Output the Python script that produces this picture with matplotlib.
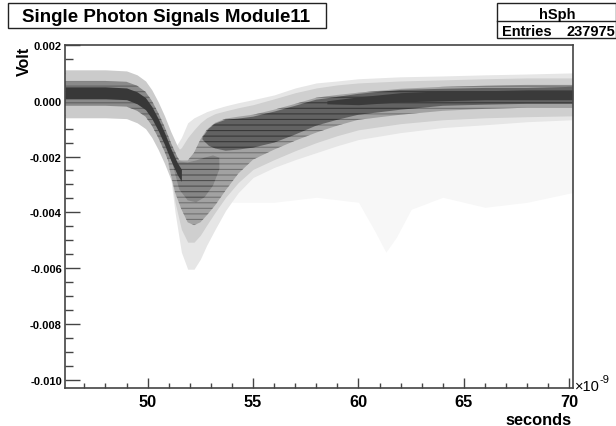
import matplotlib
matplotlib.use("Agg")
import matplotlib.pyplot as plt
from matplotlib.patches import Rectangle
from matplotlib.ticker import MultipleLocator, FormatStrFormatter

plt.rcParams['font.family'] = ['Liberation Sans', 'DejaVu Sans']
plt.rcParams['axes.unicode_minus'] = False
plt.rcParams['hatch.linewidth'] = 0.8

# ---------------- data (time in ns, amplitude in V) ----------------
title = "Single Photon Signals Module11"
hist_name = "hSph"
entries = 237975

# component A: baseline before the pulse and the falling edge
t_a = [46.08, 47.0, 48.0, 49.0, 49.5, 49.9, 50.2, 50.5, 50.8, 51.1, 51.4, 51.6]
a_halo_hi = [0.00111, 0.00111, 0.00111, 0.00107, 0.00093, 0.00071, 0.00039, -0.00004, -0.00054, -0.00111, -0.00161, -0.00186]
a_halo_lo = [-0.00061, -0.00061, -0.00061, -0.00064, -0.00079, -0.00100, -0.00132, -0.00175, -0.00225, -0.00282, -0.00332, -0.00357]
a_mid_hi = [0.00071, 0.00071, 0.00071, 0.00068, 0.00054, 0.00032, 0.00000, -0.00043, -0.00093, -0.00150, -0.00200, -0.00225]
a_mid_lo = [-0.00018, -0.00018, -0.00018, -0.00021, -0.00036, -0.00057, -0.00089, -0.00132, -0.00182, -0.00239, -0.00289, -0.00314]
a_core_hi = [0.00050, 0.00050, 0.00050, 0.00046, 0.00032, 0.00011, -0.00021, -0.00064, -0.00114, -0.00171, -0.00221, -0.00246]
a_core_lo = [0.00007, 0.00007, 0.00007, 0.00004, -0.00011, -0.00032, -0.00064, -0.00107, -0.00157, -0.00214, -0.00264, -0.00289]

# component B: pulse trough and recovery
t_b = [51.0, 51.3, 51.6, 51.9, 52.2, 52.5, 52.8, 53.2, 53.7, 54.3, 55.0,
       56.0, 57.0, 58.0, 59.0, 60.0, 62.0, 64.0, 66.0, 68.0, 70.16]
b_sparse_hi = [-0.00168, -0.00168, -0.00132, -0.00079, -0.00061, -0.00050, -0.00039, -0.00029, -0.00018, -0.00007, 0.00004,
               0.00021, 0.00046, 0.00064, 0.00071, 0.00079, 0.00086, 0.00089, 0.00093, 0.00096, 0.00100]
b_sparse_lo = [-0.00221, -0.00400, -0.00543, -0.00604, -0.00604, -0.00568, -0.00518, -0.00461, -0.00393, -0.00329, -0.00275,
               -0.00239, -0.00211, -0.00186, -0.00161, -0.00139, -0.00114, -0.00096, -0.00086, -0.00075, -0.00068]
b_halo_hi = [-0.00186, -0.00186, -0.00168, -0.00132, -0.00104, -0.00079, -0.00061, -0.00046, -0.00036, -0.00025, -0.00014,
             0.00007, 0.00029, 0.00046, 0.00057, 0.00064, 0.00071, 0.00075, 0.00079, 0.00082, 0.00082]
b_halo_lo = [-0.00221, -0.00364, -0.00461, -0.00507, -0.00507, -0.00482, -0.00446, -0.00400, -0.00346, -0.00293, -0.00246,
             -0.00211, -0.00179, -0.00150, -0.00125, -0.00104, -0.00082, -0.00068, -0.00061, -0.00057, -0.00054]
b_mid_hi = [-0.00204, -0.00211, -0.00214, -0.00214, -0.00186, -0.00139, -0.00104, -0.00079, -0.00064, -0.00057, -0.00050,
            -0.00032, -0.00011, 0.00011, 0.00021, 0.00029, 0.00043, 0.00050, 0.00054, 0.00057, 0.00057]
b_mid_lo = [-0.00232, -0.00329, -0.00389, -0.00436, -0.00446, -0.00436, -0.00411, -0.00375, -0.00321, -0.00261, -0.00211,
            -0.00175, -0.00143, -0.00114, -0.00089, -0.00068, -0.00050, -0.00036, -0.00029, -0.00025, -0.00025]

# dense recovery band
t_bc = [52.6, 52.9, 53.2, 53.7, 54.3, 55.0, 56.0, 57.0, 58.0, 59.0, 60.0, 62.0, 64.0, 66.0, 68.0, 70.16]
b_core_hi = [-0.00132, -0.00100, -0.00082, -0.00068, -0.00064, -0.00057, -0.00039, -0.00018, 0.00004, 0.00014,
             0.00025, 0.00039, 0.00043, 0.00046, 0.00046, 0.00050]
b_core_lo = [-0.00139, -0.00161, -0.00171, -0.00179, -0.00175, -0.00168, -0.00150, -0.00121, -0.00089, -0.00068,
             -0.00050, -0.00032, -0.00018, -0.00014, -0.00011, -0.00011]

# denser part of the trough cloud
t_bt = [51.2, 51.5, 51.9, 52.3, 52.7, 53.1, 53.4]
b_trough_hi = [-0.00214, -0.00218, -0.00221, -0.00214, -0.00204, -0.00196, -0.00204]
b_trough_lo = [-0.00232, -0.00318, -0.00357, -0.00364, -0.00346, -0.00304, -0.00246]

# darkest line of the late baseline
t_bd = [58.5, 60.0, 62.0, 64.0, 66.0, 68.0, 70.16]
b_dark_hi = [0.00000, 0.00014, 0.00029, 0.00036, 0.00036, 0.00039, 0.00039]
b_dark_lo = [-0.00011, -0.00014, -0.00004, 0.00000, 0.00004, 0.00004, 0.00004]

# faint after-pulse scatter
t_ap = [54.0, 56.0, 58.0, 60.0, 60.8, 61.3, 61.8, 62.5, 64.0, 66.0, 68.0, 70.16]
ap_hi = [-0.00204, -0.00168, -0.00132, -0.00114, -0.00114, -0.00114, -0.00114, -0.00096, -0.00089, -0.00079, -0.00068, -0.00061]
ap_lo = [-0.00364, -0.00364, -0.00346, -0.00364, -0.00471, -0.00543, -0.00489, -0.00389, -0.00346, -0.00382, -0.00364, -0.00329]

x_major = [50, 55, 60, 65, 70]
y_major = [-0.010, -0.008, -0.006, -0.004, -0.002, 0.000, 0.002]

# ---------------- figure ----------------
W, H = 616, 427
fig = plt.figure(figsize=(W / 100, H / 100), dpi=100)
ax = fig.add_axes([65 / W, 1 - 389 / H, (572.7 - 65) / W, (389 - 46) / H])

def band(t, lo, hi, color, z, hatch=None, hcolor=None):
    ax.fill_between(t, lo, hi, facecolor=color, edgecolor=hcolor if hatch else color,
                    linewidth=0, hatch=hatch, zorder=z)

band(t_ap, ap_lo, ap_hi, '#f7f7f7', 1)
band(t_b, b_sparse_lo, b_sparse_hi, '#e6e6e6', 2)
band(t_a, a_halo_lo, a_halo_hi, '#cbcbcb', 3)
band(t_b, b_halo_lo, b_halo_hi, '#cfcfcf', 3)
band(t_a, a_mid_lo, a_mid_hi, '#8a8a8a', 4, '---', '#626262')
band(t_b, b_mid_lo, b_mid_hi, '#a2a2a2', 4, '---', '#727272')
band(t_bt, b_trough_lo, b_trough_hi, '#868686', 5, '---', '#4e4e4e')
band(t_bc, b_core_lo, b_core_hi, '#626262', 5, '---', '#383838')
band(t_a, a_core_lo, a_core_hi, '#383838', 6)
band(t_bd, b_dark_lo, b_dark_hi, '#3a3a3a', 6)

ax.set_xlim(46.08, 70.16)
ax.set_ylim(-0.0103, 0.0020)
ax.set_xticks(x_major)
ax.set_yticks(y_major)
ax.xaxis.set_minor_locator(MultipleLocator(1))
ax.yaxis.set_minor_locator(MultipleLocator(0.0005))
ax.yaxis.set_major_formatter(FormatStrFormatter('%.3f'))
ax.xaxis.set_major_formatter(FormatStrFormatter('%d'))

ax.tick_params(axis='both', which='both', direction='in', colors='#444444', top=False, right=False)
ax.tick_params(axis='y', which='major', length=10.8, width=1.0, pad=2.2, labelsize=8, labelcolor='black')
ax.tick_params(axis='y', which='minor', length=5.8, width=1.0)
ax.tick_params(axis='x', which='major', length=7.2, width=1.0, pad=4.3, labelsize=11.8, labelcolor='black')
ax.tick_params(axis='x', which='minor', length=3.6, width=1.0)
for lab in ax.get_xticklabels() + ax.get_yticklabels():
    lab.set_fontweight('bold')
for sp in ax.spines.values():
    sp.set_color('#444444')
    sp.set_linewidth(1.2)
    sp.set_zorder(10)

# axis titles
fig.text(24.5 / W, 1 - 47 / H, 'Volt', rotation=90, ha='center', va='top',
         fontsize=11.5, fontweight='bold')
fig.text(572 / W, 1 - 425 / H, 'seconds', ha='right', va='baseline',
         fontsize=11.8, fontweight='bold')
fig.text(575 / W, 1 - 391 / H, '\u00d710', ha='left', va='baseline', fontsize=10.5)
fig.text(600 / W, 1 - 383 / H, '-9', ha='left', va='baseline', fontsize=8)

# title box
fig.patches.append(Rectangle((8 / W, 1 - 29 / H), (326 - 8) / W, (29 - 4) / H,
                             transform=fig.transFigure, facecolor='white',
                             edgecolor='#222222', linewidth=1.0))
fig.text(22 / W, 1 - 21.7 / H, title, ha='left', va='baseline',
         fontsize=13.5, fontweight='bold')

# stats box
fig.patches.append(Rectangle((497 / W, 1 - 39 / H), (616 - 497) / W, (39 - 4) / H,
                             transform=fig.transFigure, facecolor='white',
                             edgecolor='#222222', linewidth=1.0))
fig.add_artist(plt.Line2D([497 / W, 616 / W], [1 - 22 / H, 1 - 22 / H],
                          transform=fig.transFigure, color='#222222', linewidth=1.0))
fig.text(557 / W, 1 - 18.5 / H, hist_name, ha='center', va='baseline',
         fontsize=10.5, fontweight='bold')
fig.text(502 / W, 1 - 36 / H, 'Entries', ha='left', va='baseline',
         fontsize=10.5, fontweight='bold')
fig.text(615 / W, 1 - 36 / H, str(entries), ha='right', va='baseline',
         fontsize=10.5, fontweight='bold')

fig.savefig('out.png', dpi=100)
